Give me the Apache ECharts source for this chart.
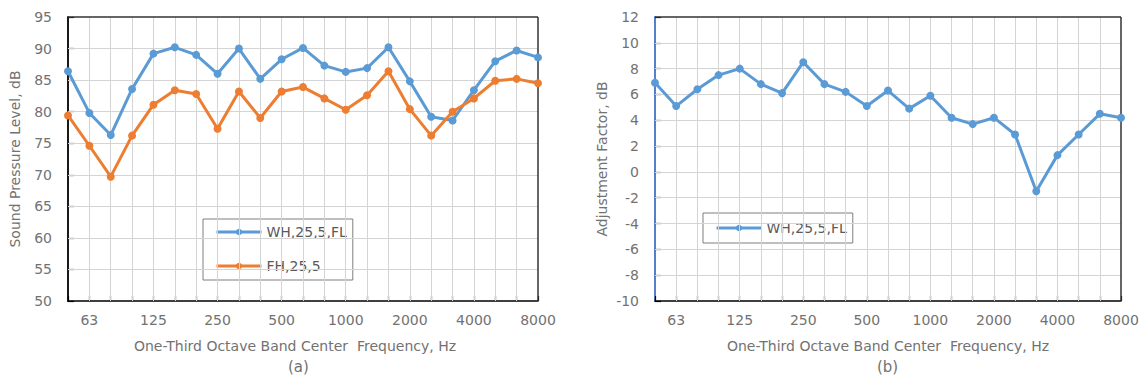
<!DOCTYPE html>
<html><head><meta charset="utf-8">
<script src="https://cdn.jsdelivr.net/npm/echarts@6/dist/echarts.min.js"></script>
<style>html,body{margin:0;padding:0;background:#fff}#c{width:1147px;height:390px}</style>
</head><body><div id="c"></div>
<script>
// One-third octave band centre frequencies (Hz)
const categories = ['50','63','80','100','125','160','200','250','315','400','500','630','800','1000','1250','1600','2000','2500','3150','4000','5000','6300','8000'];
// Tick labels shown on the frequency axis
const shownTicks = ['63','125','250','500','1000','2000','4000','8000'];
// Value-axis tick marks
const ticksA = [50, 55, 60, 65, 70, 75, 80, 85, 90, 95];
const ticksB = [-10, -8, -6, -4, -2, 0, 2, 4, 6, 8, 10, 12];
// Panel (a): sound pressure level, dB
const whFL = [86.4,79.8,76.3,83.6,89.2,90.2,89.0,86.0,90.0,85.2,88.3,90.1,87.3,86.3,86.9,90.2,84.8,79.2,78.6,83.4,88.0,89.7,88.6];
const fh25 = [79.4,74.6,69.7,76.2,81.1,83.4,82.8,77.3,83.2,79.0,83.2,83.9,82.1,80.3,82.6,86.4,80.4,76.2,80.0,82.1,84.9,85.2,84.5];
// Panel (b): adjustment factor, dB
const adjFactor = [6.9,5.1,6.4,7.5,8.0,6.8,6.1,8.5,6.8,6.2,5.1,6.3,4.9,5.9,4.2,3.7,4.2,2.9,-1.5,1.3,2.9,4.5,4.2];

const FONT = 'DejaVu Sans';
const TXT = '#727272';
const BLUE = '#5B9BD5', ORANGE = '#ED7D31';
const GRIDC = '#d4d4d4';

function xMain(gi, namePad) {
  return {
    type: 'category', gridIndex: gi, data: categories, boundaryGap: false, z: 4,
    axisLine: { show: true, onZero: false, lineStyle: { color: '#000', width: 1.5 } },
    axisTick: { show: true, inside: true, length: 5, interval: 0, lineStyle: { color: '#000', width: 1.2 } },
    axisLabel: { interval: (i, v) => shownTicks.includes(v), margin: 12, color: TXT, fontSize: 14, fontFamily: FONT },
    splitLine: { show: false },
    name: 'One-Third Octave Band Center  Frequency, Hz', nameLocation: 'middle', nameGap: 38,
    nameTextStyle: { color: TXT, fontSize: 14, fontFamily: FONT, padding: namePad }
  };
}
function yMain(gi, min, max, step, name, lineColor) {
  return { type: 'value', gridIndex: gi, min: min, max: max, interval: step, z: 4,
    axisLine: { show: true, onZero: false, lineStyle: { color: lineColor, width: 1.8 } },
    axisTick: { show: true, inside: true, length: 6, lineStyle: { color: '#000', width: 1.2 } },
    axisLabel: { margin: 16, color: TXT, fontSize: 14, fontFamily: FONT },
    splitLine: { show: false },
    name: name, nameLocation: 'middle', nameGap: 46,
    nameTextStyle: { color: TXT, fontSize: 14, fontFamily: FONT }
  };
}
function lineSeries(name, data, color, gi) {
  return { type: 'line', name: name, data: data, xAxisIndex: gi, yAxisIndex: gi,
    symbol: 'circle', symbolSize: 8, color: color, z: 5,
    lineStyle: { width: 3, color: color }, itemStyle: { color: color } };
}
// Helper series: light gridlines plus dark top/right frame, placed through the axes' own scales
function frameSeries(gi, ticks) {
  const inner = categories.slice(1, -1).map(c => ({ xAxis: c }))
    .concat(ticks.slice(1, -1).map(v => ({ yAxis: v })));
  const frame = [{ xAxis: categories[categories.length - 1] }, { yAxis: ticks[ticks.length - 1] }];
  return { type: 'line', xAxisIndex: gi, yAxisIndex: gi, data: [], silent: true, z: 1,
    markLine: { silent: true, symbol: ['none', 'none'], label: { show: false }, animation: false,
      lineStyle: { color: GRIDC, width: 1, type: 'solid' }, emphasis: { disabled: true },
      data: inner.concat(frame.map(d => Object.assign({}, d, { lineStyle: { color: '#333', width: 1.5, type: 'solid' } }))) } };
}
const legendBase = { orient: 'vertical', borderColor: '#7f7f7f', borderWidth: 1, itemWidth: 45, itemHeight: 8,
  backgroundColor: '#fff', lineStyle: { width: 3 },
  textStyle: { color: '#595959', fontSize: 14, fontFamily: FONT }, itemGap: 20, selectedMode: false };

const chart = echarts.init(document.getElementById('c'), null, { renderer: 'svg' });
chart.setOption({
  animation: false,
  grid: [
    { left: 68, top: 17, width: 470, height: 284 },
    { left: 655, top: 17, width: 466, height: 284 }
  ],
  xAxis: [xMain(0, [0, 16, 0, 0]), xMain(1, [0, 0, 0, 0])],
  yAxis: [
    yMain(0, 50, 95, 5, 'Sound Pressure Level, dB', '#000'),
    yMain(1, -10, 12, 2, 'Adjustment Factor, dB', '#4472C4')
  ],
  legend: [
    Object.assign({}, legendBase, { left: 203, top: 219, data: ['WH,25,5,FL', 'FH,25,5'], padding: [6, 6, 7, 12] }),
    Object.assign({}, legendBase, { left: 703, top: 213, data: ['WH,25,5,FL'], padding: [8, 6, 8, 12] })
  ],
  graphic: [
    { type: 'text', left: 288, top: 359, style: { text: '(a)', fill: TXT, font: '15px "DejaVu Sans"' } },
    { type: 'text', left: 877, top: 359, style: { text: '(b)', fill: TXT, font: '15px "DejaVu Sans"' } }
  ],
  series: [
    frameSeries(0, ticksA),
    frameSeries(1, ticksB),
    lineSeries('WH,25,5,FL', whFL, BLUE, 0),
    lineSeries('FH,25,5', fh25, ORANGE, 0),
    lineSeries('WH,25,5,FL', adjFactor, BLUE, 1)
  ]
});
</script></body></html>
